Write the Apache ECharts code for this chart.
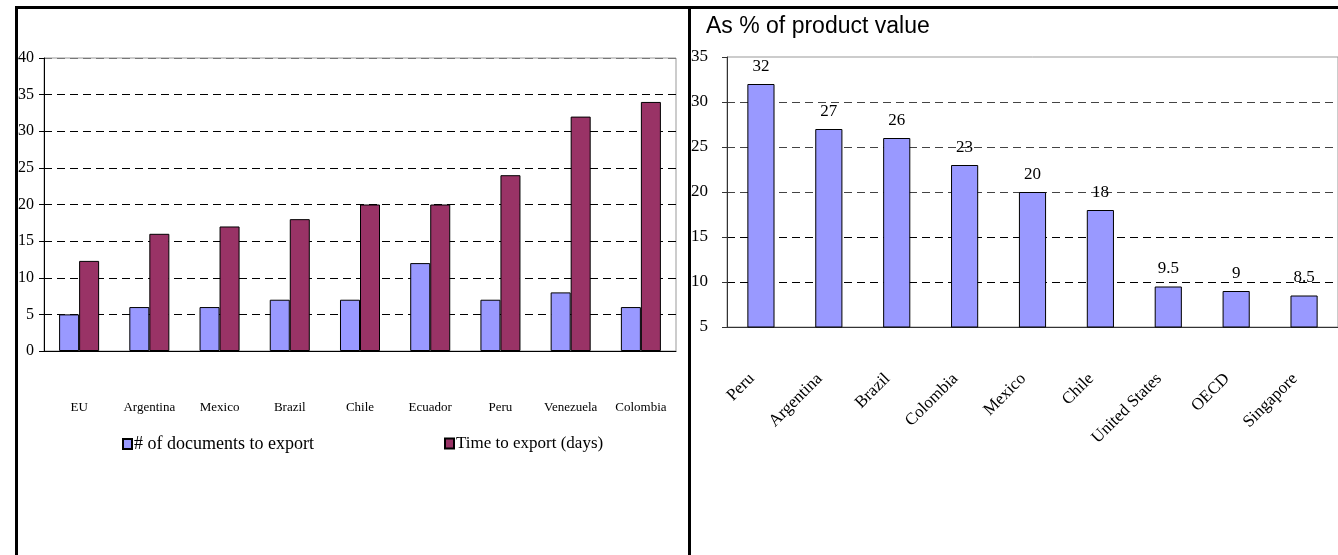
<!DOCTYPE html>
<html><head><meta charset="utf-8">
<script src="https://cdn.jsdelivr.net/npm/echarts@6/dist/echarts.min.js"></script>
<style>html,body{margin:0;padding:0;background:#fff}#c{width:1338px;height:555px}</style>
</head><body><div id="c"></div>
<script>
const leftCategories = ['EU','Argentina','Mexico','Brazil','Chile','Ecuador','Peru','Venezuela','Colombia'];
const docsToExport = [5, 6, 6, 7, 7, 12, 7, 8, 6];
const timeToExport = [12.3, 16, 17, 18, 20, 20, 24, 32, 34];
const rightCategories = ['Peru','Argentina','Brazil','Colombia','Mexico','Chile','United States','OECD','Singapore'];
const costPct = [32, 27, 26, 23, 20, 18, 9.5, 9, 8.5];
const rightTitle = 'As % of product value';
const seriesNames = ['# of documents to export', 'Time to export (days)'];

const serif = 'Liberation Serif';

const chart = echarts.init(document.getElementById('c'), null, { renderer: 'canvas' });
chart.setOption({
  animation: false,
  backgroundColor: '#fff',
  title: {
    text: rightTitle, left: 701, top: 10,
    textStyle: { fontFamily: 'Liberation Sans', fontSize: 23, fontWeight: 'normal', color: '#000' }
  },
  legend: [
    { data: [seriesNames[0]], left: 117, top: 430, icon: 'rect', itemWidth: 9, itemHeight: 10, itemGap: 4,
      textStyle: { fontFamily: serif, fontSize: 18, color: '#000', padding: [0,0,0,-3] } },
    { data: [seriesNames[1]], left: 439, top: 430, icon: 'rect', itemWidth: 9, itemHeight: 10, itemGap: 4,
      textStyle: { fontFamily: serif, fontSize: 17, color: '#000', padding: [0,0,0,-3] } }
  ],
  grid: [
    { left: 44, right: 662, top: 58, bottom: 204, show: true, borderColor: '#999', borderWidth: 1 },
    { left: 727, right: -4, top: 57, bottom: 228, show: true, borderColor: '#999', borderWidth: 1 }
  ],
  xAxis: [
    { type: 'category', gridIndex: 0, data: leftCategories,
      axisLine: { lineStyle: { color: '#000' } },
      axisTick: { length: 5, lineStyle: { color: '#000' } },
      axisLabel: { margin: 50, fontFamily: serif, fontSize: 13, color: '#000', interval: 0 } },
    { type: 'category', gridIndex: 1, data: rightCategories,
      axisLine: { lineStyle: { color: '#333' } },
      axisTick: { length: 5, lineStyle: { color: '#333' } },
      axisLabel: { margin: 40, rotate: 45, padding: [0, 13, 0, 0], fontFamily: serif, fontSize: 17, color: '#000', interval: 0 } }
  ],
  yAxis: [
    { type: 'value', gridIndex: 0, min: 0, max: 40, interval: 5,
      axisLine: { show: true, lineStyle: { color: '#000' } },
      axisTick: { show: true, length: 5, lineStyle: { color: '#000' } },
      axisLabel: { margin: 10, fontFamily: serif, fontSize: 16, color: '#000' },
      splitLine: { show: true, lineStyle: { color: ['#000','#000','#000','#000','#000','#000','#000','#000','#777'], type: [8, 5], width: 1 } } },
    { type: 'value', gridIndex: 1, min: 5, max: 35, interval: 5,
      axisLine: { show: true, lineStyle: { color: '#333' } },
      axisTick: { show: true, length: 5, lineStyle: { color: '#333' } },
      axisLabel: { margin: 19, fontFamily: serif, fontSize: 17, color: '#000' },
      splitLine: { show: true, lineStyle: { color: ['#333','#000','#000','#444','#444','#444','rgba(0,0,0,0)'], type: [8, 5], width: 1 } } }
  ],
  series: [
    { name: seriesNames[0], type: 'bar', xAxisIndex: 0, yAxisIndex: 0, data: docsToExport,
      barGap: '0%', barCategoryGap: '43%',
      itemStyle: { color: '#9999FF', borderColor: '#000', borderWidth: 1 } },
    { name: seriesNames[1], type: 'bar', xAxisIndex: 0, yAxisIndex: 0, data: timeToExport,
      barGap: '0%', barCategoryGap: '43%',
      itemStyle: { color: '#993366', borderColor: '#000', borderWidth: 1 } },
    { name: rightTitle, type: 'bar', xAxisIndex: 1, yAxisIndex: 1, data: costPct,
      barCategoryGap: '60%',
      itemStyle: { color: '#9999FF', borderColor: '#000', borderWidth: 1 },
      label: { show: true, position: 'top', distance: 9, fontFamily: serif, fontSize: 17, color: '#000' } }
  ],
  graphic: [
    { type: 'line', shape: { x1: 15, y1: 7.5, x2: 1338, y2: 7.5 }, style: { stroke: '#000', lineWidth: 3 } },
    { type: 'line', shape: { x1: 16.5, y1: 6, x2: 16.5, y2: 555 }, style: { stroke: '#000', lineWidth: 3 } },
    { type: 'line', shape: { x1: 689.5, y1: 6, x2: 689.5, y2: 555 }, style: { stroke: '#000', lineWidth: 3 } }
  ]
});
</script></body></html>
